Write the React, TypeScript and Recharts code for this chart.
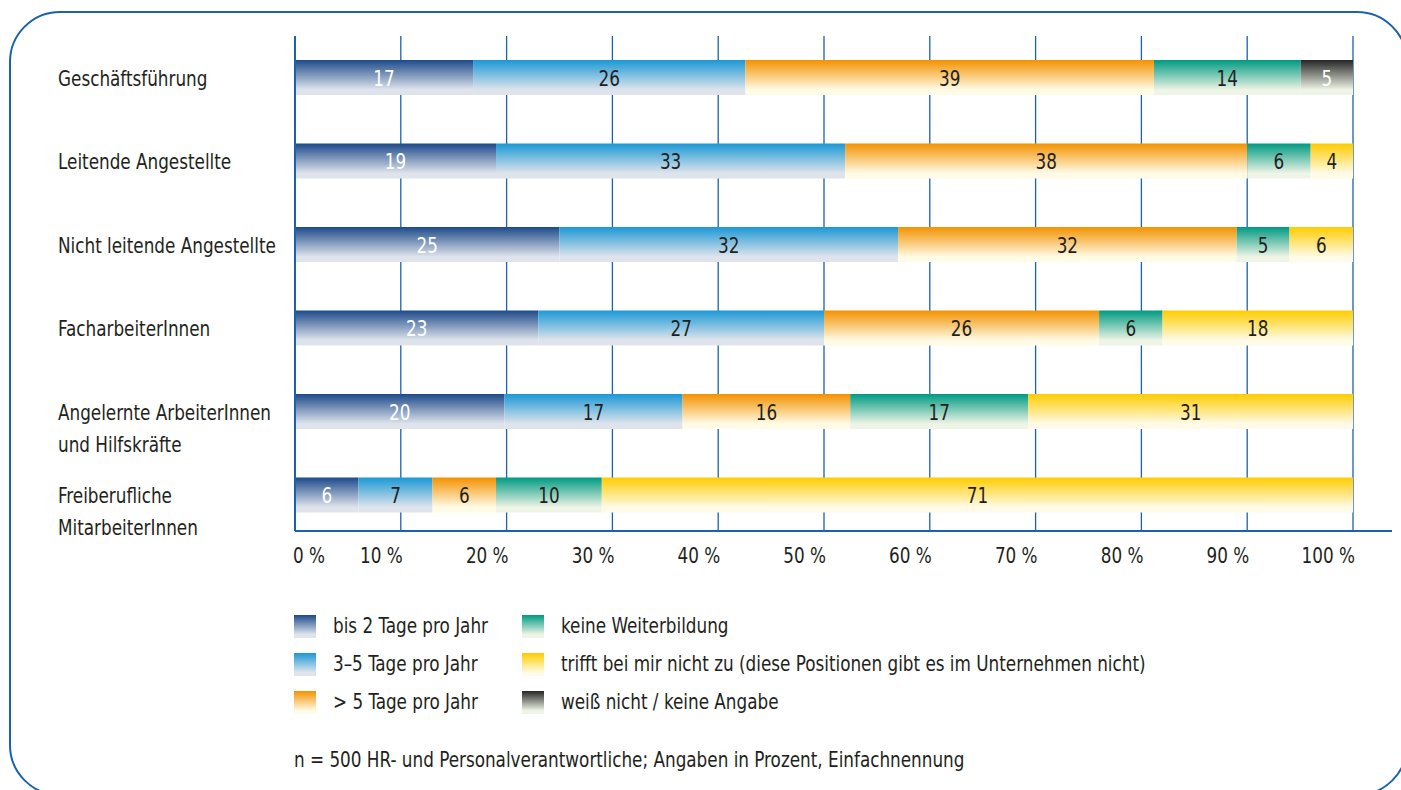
import { BarChart, Bar, XAxis, YAxis, CartesianGrid, LabelList } from "recharts";

const CATEGORIES = [
    "Geschäftsführung",
    "Leitende Angestellte",
    "Nicht leitende Angestellte",
    "FacharbeiterInnen",
    "Angelernte ArbeiterInnen\nund Hilfskräfte",
    "Freiberufliche\nMitarbeiterInnen",
];

const BIS_2_TAGE = [17, 19, 25, 23, 20, 6];
const TAGE_3_5 = [26, 33, 32, 27, 17, 7];
const MEHR_5_TAGE = [39, 38, 32, 26, 16, 6];
const KEINE_WEITERBILDUNG = [14, 6, 5, 6, 17, 10];
const TRIFFT_NICHT_ZU = [0, 4, 6, 18, 31, 71];
const WEISS_NICHT = [5, 0, 0, 0, 0, 0];

const X_TICKS = [0, 10, 20, 30, 40, 50, 60, 70, 80, 90, 100];

const FONT = "'DejaVu Sans Condensed', 'DejaVu Sans', sans-serif";
const FONT_SIZE = 22;
const SQUEEZE = 0.85; // horizontal squeeze for a narrow, tall look
const TEXT = "#231f20";
const BLUE = "#1a62ae";

const SERIES = [
    { key: "bis2", name: "bis 2 Tage pro Jahr", values: BIS_2_TAGE, top: "#1d4a8a", bottom: "#dfe4ec", label: "#ffffff" },
    { key: "tage35", name: "3–5 Tage pro Jahr", values: TAGE_3_5, top: "#1b98d5", bottom: "#dfe4ec", label: TEXT },
    { key: "mehr5", name: "> 5 Tage pro Jahr", values: MEHR_5_TAGE, top: "#f39200", bottom: "#fffbe6", label: TEXT },
    { key: "keine", name: "keine Weiterbildung", values: KEINE_WEITERBILDUNG, top: "#009a82", bottom: "#eef4e6", label: TEXT },
    { key: "trifft", name: "trifft bei mir nicht zu (diese Positionen gibt es im Unternehmen nicht)", values: TRIFFT_NICHT_ZU, top: "#ffcc00", bottom: "#fffbe8", label: TEXT },
    { key: "weiss", name: "weiß nicht / keine Angabe", values: WEISS_NICHT, top: "#262626", bottom: "#eef4e6", label: "#ffffff" },
];

const data = CATEGORIES.map((name, i) => {
    const row: Record<string, string | number> = { name };
    SERIES.forEach((s) => (row[s.key] = s.values[i]));
    return row;
});

const Gradients = ({ prefix }: { prefix: string }) => (
    <defs>
        {SERIES.map((s) => (
            <linearGradient key={s.key} id={`${prefix}-${s.key}`} x1="0" y1="0" x2="0" y2="1">
                <stop offset="0%" stopColor={s.top} />
                <stop offset="85%" stopColor={s.bottom} />
                <stop offset="100%" stopColor={s.bottom} />
            </linearGradient>
        ))}
    </defs>
);

// text anchored at (x, y) and squeezed horizontally around that point
const NarrowText = ({ x, y, anchor = "start", fill = TEXT, children }: any) => (
    <g transform={`translate(${x},${y}) scale(${SQUEEZE},1)`}>
        <text x={0} y={0} textAnchor={anchor} fontFamily={FONT} fontSize={FONT_SIZE} fill={fill}>
            {children}
        </text>
    </g>
);

const CategoryTick = ({ y, payload }: any) => {
    const lines = String(payload.value).split("\n");
    return (
        <g>
            {lines.map((line, i) => (
                <NarrowText key={i} x={58} y={y + 8 + i * 32}>
                    {line}
                </NarrowText>
            ))}
        </g>
    );
};

const PercentTick = ({ x, y, payload }: any) => {
    const pct = Math.round(payload.value * 100);
    const first = pct === 0;
    return (
        <NarrowText x={first ? x - 2 : x + 2} y={y + 32} anchor={first ? "start" : "end"}>
            {pct} %
        </NarrowText>
    );
};

const valueLabel = (fill: string) => (props: any) => {
    const { x, y, width, height, value } = props;
    if (!value) return null;
    return (
        <NarrowText x={x + width / 2} y={y + height / 2 + 8} anchor="middle" fill={fill}>
            {value}
        </NarrowText>
    );
};

export default function App() {
    return (
        <div style={{ position: "absolute", left: 0, top: 0, width: 1401, height: 790, overflow: "hidden", background: "#fff" }}>
            <svg width={1401} height={790} style={{ position: "absolute", left: 0, top: 0 }}>
                <Gradients prefix="lg" />
                <rect x={10} y={12} width={1397} height={783} rx={50} ry={50} fill="none" stroke={BLUE} strokeWidth={2} />
                {/* x axis runs on a little past 100 % */}
                <line x1={1350} y1={531} x2={1392} y2={531} stroke={BLUE} strokeWidth={2} />
                {SERIES.map((s, i) => {
                    const x = i < 3 ? 294 : 522;
                    const y = 615 + (i % 3) * 38;
                    return (
                        <g key={s.key}>
                            <rect x={x} y={y} width={22} height={23} fill={`url(#lg-${s.key})`} />
                            <NarrowText x={x + 39} y={y + 18}>
                                {s.name}
                            </NarrowText>
                        </g>
                    );
                })}
                <NarrowText x={294} y={767}>
                    n = 500 HR- und Personalverantwortliche; Angaben in Prozent, Einfachnennung
                </NarrowText>
            </svg>

            <div style={{ position: "absolute", left: 0, top: 0 }}>
                <BarChart
                    width={1401}
                    height={790}
                    data={data}
                    layout="vertical"
                    stackOffset="expand"
                    barSize={35}
                    margin={{ top: 36, right: 48, bottom: 229, left: 0 }}
                >
                    <Gradients prefix="bar" />
                    <CartesianGrid horizontal={false} stroke={BLUE} strokeWidth={1.3} />
                    <XAxis
                        type="number"
                        domain={[0, 1]}
                        ticks={X_TICKS.map((t) => t / 100)}
                        height={30}
                        tickLine={false}
                        tickSize={0}
                        tickMargin={0}
                        axisLine={{ stroke: BLUE, strokeWidth: 2 }}
                        tick={<PercentTick />}
                    />
                    <YAxis
                        type="category"
                        dataKey="name"
                        width={295}
                        padding={{ top: 0, bottom: -6 }}
                        tickLine={false}
                        axisLine={{ stroke: BLUE, strokeWidth: 2 }}
                        tick={<CategoryTick />}
                    />
                    {SERIES.map((s) => (
                        <Bar key={s.key} dataKey={s.key} stackId="a" fill={`url(#bar-${s.key})`} isAnimationActive={false}>
                            <LabelList dataKey={s.key} content={valueLabel(s.label)} />
                        </Bar>
                    ))}
                </BarChart>
            </div>
        </div>
    );
}
